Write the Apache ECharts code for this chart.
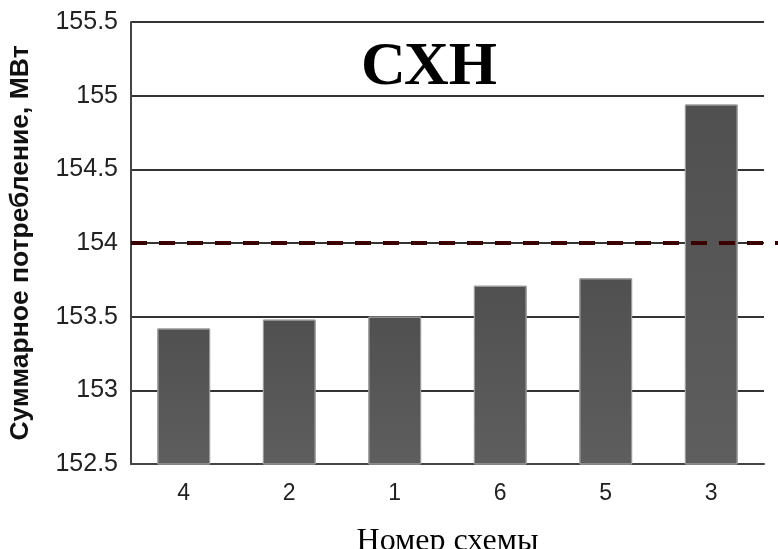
<!DOCTYPE html>
<html>
<head>
<meta charset="utf-8">
<script src="https://cdn.jsdelivr.net/npm/echarts@6/dist/echarts.min.js"></script>
<style>
html,body{margin:0;padding:0;background:#fff;overflow:hidden;}
#c{width:778px;height:549px;}
</style>
</head>
<body>
<div id="c"></div>
<script>
var categories = ['4', '2', '1', '6', '5', '3'];
var values = [153.42, 153.48, 153.50, 153.71, 153.76, 154.94];
var refValue = 154;
var yMin = 152.5, yMax = 155.5, yStep = 0.5;
var titleText = 'СХН';
var yName = 'Суммарное потребление, МВт';
var xName = 'Номер схемы';

var chart = echarts.init(document.getElementById('c'), null, {renderer: 'canvas'});
var option = {
  animation: false,
  backgroundColor: '#fff',
  grid: {left: 131, right: 14, top: 22, bottom: 85, containLabel: false, outerBoundsMode: 'none'},
  title: {
    text: titleText, left: 424, top: 32, textAlign: 'center',
    textStyle: {fontFamily: '"Liberation Serif", "Times New Roman", serif', fontWeight: 'bold', fontSize: 62, color: '#000'}
  },
  xAxis: {
    type: 'category', data: categories,
    name: xName, nameLocation: 'middle', nameGap: 62,
    nameTextStyle: {fontFamily: '"Liberation Serif", "Times New Roman", serif', fontSize: 32, color: '#000'},
    axisLine: {show: true, lineStyle: {color: '#444', width: 2}},
    axisTick: {show: false},
    axisLabel: {fontFamily: '"Liberation Sans", Arial, sans-serif', fontSize: 23, color: '#222', margin: 18}
  },
  yAxis: {
    type: 'value', min: yMin, max: yMax, interval: yStep,
    name: yName, nameLocation: 'middle', nameGap: 97, nameRotate: 90,
    nameTextStyle: {fontFamily: '"Liberation Sans", Arial, sans-serif', fontWeight: 'bold', fontSize: 26.5, color: '#111'},
    axisLine: {show: true, lineStyle: {color: '#444', width: 2}},
    axisTick: {show: false},
    axisLabel: {fontFamily: '"Liberation Sans", Arial, sans-serif', fontSize: 25, color: '#222', margin: 13,
      formatter: function (v) { return String(+v.toFixed(1)); }},
    splitLine: {show: true, lineStyle: {color: '#333', width: 2}}
  },
  series: [{
    type: 'bar', data: values, barWidth: '50%',
    itemStyle: {
      color: new echarts.graphic.LinearGradient(0, 0, 0, 1, [
        {offset: 0, color: '#505050'}, {offset: 1, color: '#5e5e5e'}
      ]),
      borderColor: '#9a9a9a', borderWidth: 1
    }
  }]
};
chart.setOption(option);
var yRef = Math.round(chart.convertToPixel({yAxisIndex: 0}, refValue));
var gridRect = chart.getModel().getComponent('grid').coordinateSystem.getRect();
chart.setOption({
  graphic: [{
    type: 'line', z: 100,
    shape: {x1: gridRect.x, y1: yRef, x2: 778, y2: yRef},
    style: {stroke: '#3a0000', lineWidth: 4, lineDash: [16, 12]}
  }]
});
</script>
</body>
</html>
